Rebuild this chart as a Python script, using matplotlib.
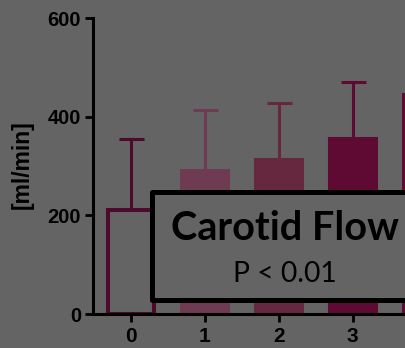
import matplotlib
matplotlib.use("Agg")
import matplotlib.pyplot as plt
from matplotlib.patches import Rectangle

# Carotid flow by stage
stages = [0, 1, 2, 3, 4]
tick_labels = ["0", "1", "2", "3", "4"]
flow_mean = [211, 289, 312, 354, 444]
flow_sd = [144, 124, 115, 117, 120]

bg = "#646464"
fill_colors = [bg, "#6e3b53", "#65283f", "#5e0a33", bg]
edge_colors = ["#4e0a2c", "#6e3b53", "#65283f", "#5e0a33", "#5e0a33"]

W, H = 405, 348
fig = plt.figure(figsize=(W / 100, H / 100), dpi=100, facecolor=bg)
ax = fig.add_axes([93 / W, 34 / H, (W - 93) / W, (314 - 18) / H])
ax.set_facecolor(bg)

for x, m, s, fc, ec in zip(stages, flow_mean, flow_sd, fill_colors, edge_colors):
    ax.bar(x, m, width=0.62, color=fc, edgecolor=ec, linewidth=2.9,
           zorder=2, clip_on=True)
    ax.errorbar(x, m, yerr=[[0], [s]], fmt="none", ecolor=ec,
                elinewidth=2.2, capsize=9, capthick=2.2, zorder=1)

ax.set_yticks([0, 200, 400, 600])
ax.set_xticks(stages)
ax.set_xticklabels(tick_labels)
ax.set_xlim(-0.51, -0.51 + (W - 93) / 74)
ax.set_ylim(0, 600)

for side in ("top", "right"):
    ax.spines[side].set_visible(False)
for side in ("left", "bottom"):
    ax.spines[side].set_linewidth(2.2)
    ax.spines[side].set_color("black")
    ax.spines[side].set_zorder(5)

ax.tick_params(axis="both", length=5.5, width=2.0, color="black",
               labelcolor="black")
ax.tick_params(axis="y", pad=3, labelsize=14.5)
ax.tick_params(axis="x", pad=4, labelsize=15)
for lab in ax.get_xticklabels() + ax.get_yticklabels():
    lab.set_fontfamily("Liberation Sans")
    lab.set_fontweight("bold")

fig.text(22 / W, 1 - 165 / H, "[ml/min]", rotation=90, ha="center", va="center",
         fontsize=16.5, fontweight="bold", family="Liberation Sans", color="black")

# Annotation box over the bars
box = Rectangle((152 / W, 1 - 300 / H), 270 / W, (300 - 192) / H,
                transform=fig.transFigure, facecolor=bg, edgecolor="black",
                linewidth=3.6, joinstyle="round", zorder=10)
fig.add_artist(box)
fig.text(285 / W, 1 - 229 / H, "Carotid Flow", ha="center", va="center",
         fontsize=28.5, fontweight="bold", family="Lato", color="black", zorder=11)
fig.text(285 / W, 1 - 274 / H, "P < 0.01", ha="center", va="center",
         fontsize=20.3, family="Lato", color="black", zorder=11)

fig.savefig("out.png", dpi=100, facecolor=bg)
